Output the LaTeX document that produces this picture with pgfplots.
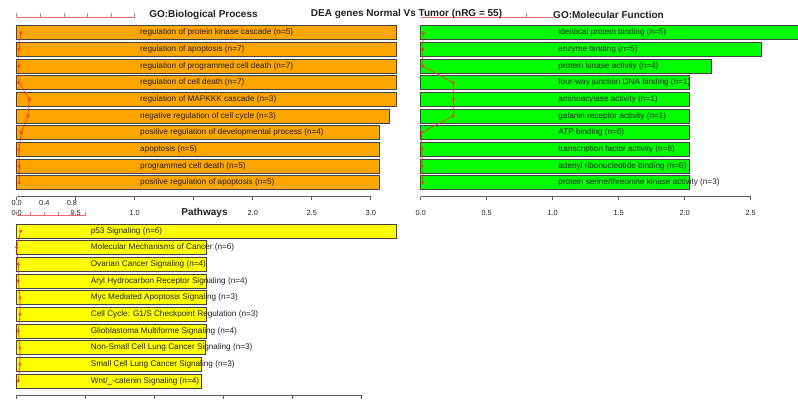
\documentclass[border=0pt]{standalone}
\usepackage{fontspec}
\setmainfont{Liberation Sans}
\usepackage{pgfplots}
\pgfplotsset{compat=1.18}

\definecolor{barorange}{HTML}{FFA500}
\definecolor{bargreen}{HTML}{00FF00}
\definecolor{baryellow}{HTML}{FFFF00}
\definecolor{ratiored}{HTML}{FF2A1A}
\definecolor{axisred}{HTML}{F06A6A}
\definecolor{axisgray}{HTML}{5A5A5A}
\definecolor{barborder}{HTML}{444444}
\definecolor{textcol}{HTML}{222222}

\newcommand{\lbl}{\fontsize{8.2}{9}\selectfont}
\newcommand{\tck}{\fontsize{7.4}{8}\selectfont}
\newcommand{\ttl}{\fontsize{10}{11}\selectfont\bfseries}

\pgfplotsset{
  eapanel/.style={scale only axis, axis lines=none, clip=false,
    y dir=reverse, anchor=north west},
  eabar/.style={xbar, bar width=14pt, bar shift=0pt, draw=barborder,
    line width=1pt, fill=#1, mark=none},
  earatio/.style={color=ratiored, line width=0.6pt, mark=o,
    mark size=1.3pt, mark options={solid, line width=0.5pt}},
}
\tikzset{
  eatext/.style={anchor=west, font=\lbl, text=textcol, inner sep=0pt},
  eatick/.style={font=\tck, text=textcol, inner sep=0pt},
}

\begin{document}
\begin{tikzpicture}
\path[use as bounding box] (0pt,0pt) rectangle (798pt,400pt);
\fill[white] (0pt,0pt) rectangle (798pt,400pt);
\clip (0pt,0pt) rectangle (798pt,400pt);

% ---------------- GO: Biological Process ----------------
\begin{axis}[eapanel, at={(16.7pt,382.7pt)}, width=380pt, height=179.4pt,
  xmin=0, xmax=3.22, ymin=0.076, ymax=10.84]
\addplot[eabar=barorange] coordinates {
  (3.22,1) (3.22,2) (3.22,3) (3.22,4) (3.22,5)
  (3.16,6) (3.07,7) (3.07,8) (3.07,9) (3.07,10)};
\node[eatext] at (axis cs:1.045,1) {regulation of protein kinase cascade (n=5)};
\node[eatext] at (axis cs:1.045,2) {regulation of apoptosis (n=7)};
\node[eatext] at (axis cs:1.045,3) {regulation of programmed cell death (n=7)};
\node[eatext] at (axis cs:1.045,4) {regulation of cell death (n=7)};
\node[eatext] at (axis cs:1.045,5) {regulation of MAPKKK cascade (n=3)};
\node[eatext] at (axis cs:1.045,6) {negative regulation of cell cycle (n=3)};
\node[eatext] at (axis cs:1.045,7) {positive regulation of developmental process (n=4)};
\node[eatext] at (axis cs:1.045,8) {apoptosis (n=5)};
\node[eatext] at (axis cs:1.045,9) {programmed cell death (n=5)};
\node[eatext] at (axis cs:1.045,10) {positive regulation of apoptosis (n=5)};
\addplot[earatio] coordinates {
  (0.034,1) (0.019,2) (0.019,3) (0.019,4) (0.107,5)
  (0.096,6) (0.039,7) (0.019,8) (0.022,9) (0.022,10)};
% bottom axis
\draw[axisgray, line width=0.6pt] (axis cs:0,10.84) -- (axis cs:3,10.84);
\pgfplotsinvokeforeach{0,0.5,1,1.5,2,2.5,3}{
  \draw[axisgray, line width=0.6pt] (axis cs:#1,10.84) -- ++(0pt,-3.5pt);}
\pgfplotsinvokeforeach{0.0,0.5,1.0,2.0,2.5,3.0}{
  \node[eatick] at ([yshift=-16.3pt]axis cs:#1,10.84) {#1};}
% ratio axis
\draw[axisred, line width=0.6pt] (axis cs:0,0.076) -- (axis cs:1,0.076);
\pgfplotsinvokeforeach{0,0.2,0.4,0.6,0.8,1}{
  \draw[axisred, line width=0.6pt] (axis cs:#1,0.076) -- ++(0pt,4pt);}
\end{axis}

% ---------------- GO: Molecular Function ----------------
\begin{axis}[eapanel, at={(420.7pt,382.7pt)}, width=377.5pt, height=179.4pt,
  xmin=0, xmax=2.86, ymin=0.076, ymax=10.84]
\addplot[eabar=bargreen] coordinates {
  (2.86,1) (2.583,2) (2.205,3) (2.033,4) (2.033,5)
  (2.033,6) (2.033,7) (2.033,8) (2.033,9) (2.033,10)};
\node[eatext] at (axis cs:1.042,1) {identical protein binding (n=5)};
\node[eatext] at (axis cs:1.042,2) {enzyme binding (n=5)};
\node[eatext] at (axis cs:1.042,3) {protein kinase activity (n=4)};
\node[eatext] at (axis cs:1.042,4) {four-way junction DNA binding (n=1)};
\node[eatext] at (axis cs:1.042,5) {aminoacylase activity (n=1)};
\node[eatext] at (axis cs:1.042,6) {galanin receptor activity (n=1)};
\node[eatext] at (axis cs:1.042,7) {ATP binding (n=6)};
\node[eatext] at (axis cs:1.042,8) {transcription factor activity (n=6)};
\node[eatext] at (axis cs:1.042,9) {adenyl ribonucleotide binding (n=6)};
\node[eatext] at (axis cs:1.042,10) {protein serine/threonine kinase activity (n=3)};
\addplot[earatio] coordinates {
  (0.020,1) (0.015,2) (0.015,3) (0.247,4) (0.247,5)
  (0.247,6) (0.005,7) (0.010,8) (0.010,9) (0.015,10)};
% bottom axis
\draw[axisgray, line width=0.6pt] (axis cs:0,10.84) -- (axis cs:2.5,10.84);
\pgfplotsinvokeforeach{0,0.5,1,1.5,2,2.5}{
  \draw[axisgray, line width=0.6pt] (axis cs:#1,10.84) -- ++(0pt,-3.5pt);}
\pgfplotsinvokeforeach{0.0,0.5,1.0,1.5,2.0,2.5}{
  \node[eatick] at ([yshift=-16.3pt]axis cs:#1,10.84) {#1};}
% ratio axis
\draw[axisred, line width=0.6pt] (axis cs:0,0.076) -- (axis cs:1,0.076);
\draw[axisred, line width=0.6pt] (axis cs:0.8,0.076) -- ++(0pt,4pt);
\end{axis}

% ---------------- Pathways ----------------
\begin{axis}[eapanel, at={(16.7pt,185pt)}, width=380.2pt, height=180pt,
  xmin=0, xmax=5.51, ymin=0.04, ymax=10.84]
\addplot[eabar=baryellow] coordinates {
  (5.51,1) (2.754,2) (2.754,3) (2.754,4) (2.744,5)
  (2.744,6) (2.744,7) (2.739,8) (2.677,9) (2.677,10)};
\node[eatext] at (axis cs:1.072,1) {p53 Signaling (n=6)};
\node[eatext] at (axis cs:1.072,2) {Molecular Mechanisms of Cancer (n=6)};
\node[eatext] at (axis cs:1.072,3) {Ovarian Cancer Signaling (n=4)};
\node[eatext] at (axis cs:1.072,4) {Aryl Hydrocarbon Receptor Signaling (n=4)};
\node[eatext] at (axis cs:1.072,5) {Myc Mediated Apoptosis Signaling (n=3)};
\node[eatext] at (axis cs:1.072,6) {Cell Cycle: G1/S Checkpoint Regulation (n=3)};
\node[eatext] at (axis cs:1.072,7) {Glioblastoma Multiforme Signaling (n=4)};
\node[eatext] at (axis cs:1.072,8) {Non-Small Cell Lung Cancer Signaling (n=3)};
\node[eatext] at (axis cs:1.072,9) {Small Cell Lung Cancer Signaling (n=3)};
\node[eatext] at (axis cs:1.072,10) {Wnt/\_-catenin Signaling (n=4)};
\addplot[earatio] coordinates {
  (0.058,1) (0.0,2) (0.023,3) (0.023,4) (0.048,5)
  (0.048,6) (0.023,7) (0.048,8) (0.048,9) (0.023,10)};
% bottom axis
\draw[axisgray, line width=0.6pt] (axis cs:0,10.84) -- (axis cs:5,10.84);
\pgfplotsinvokeforeach{0,1,2,3,4,5}{
  \draw[axisgray, line width=0.6pt] (axis cs:#1,10.84) -- ++(0pt,-3.5pt);}
% ratio axis
\draw[axisred, line width=0.6pt] (axis cs:0,0.04) -- (axis cs:1,0.04);
\pgfplotsinvokeforeach{0,0.2,0.4,0.6,0.8,1}{
  \draw[axisred, line width=0.6pt] (axis cs:#1,0.04) -- ++(0pt,3.5pt);}
\pgfplotsinvokeforeach{0.0,0.4,0.8}{
  \node[eatick] at ([yshift=12pt]axis cs:#1,0.04) {#1};}
\end{axis}

% ---------------- titles ----------------
\node[font=\ttl, text=textcol] at (203.5pt,385.5pt) {GO:Biological Process};
\node[font=\ttl, text=textcol] at (406.5pt,386pt) {DEA genes Normal Vs Tumor (nRG = 55)};
\node[font=\ttl, text=textcol] at (608.5pt,385.5pt) {GO:Molecular Function};
\node[font=\ttl, text=textcol] at (204.5pt,187pt) {Pathways};
\end{tikzpicture}
\end{document}
